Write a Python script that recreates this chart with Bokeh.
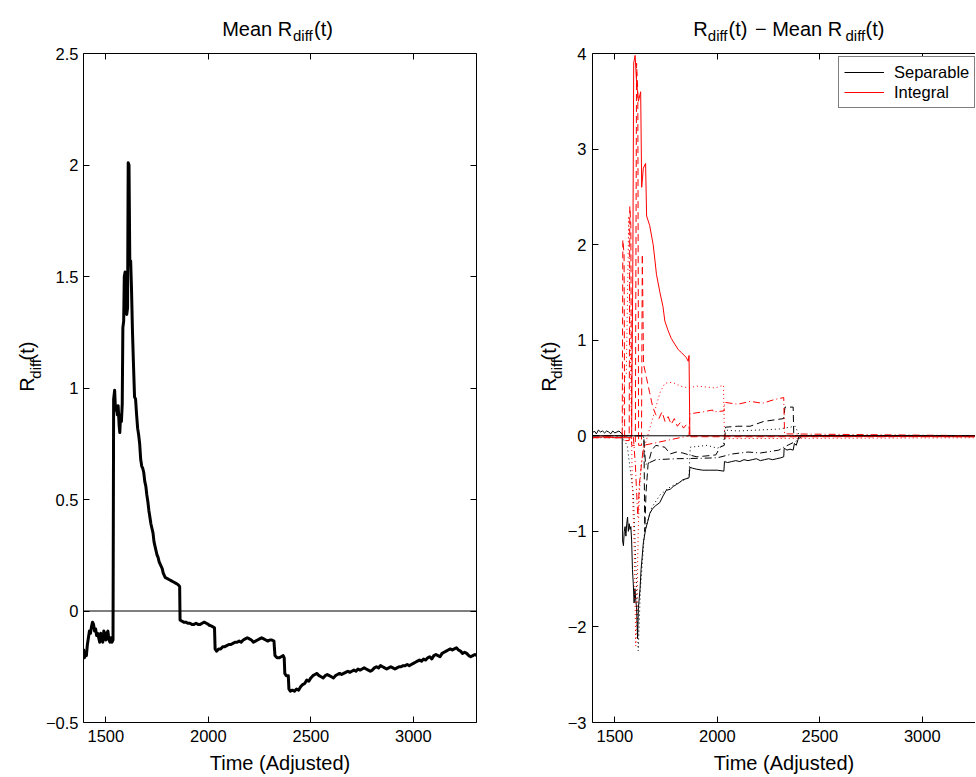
import math
from bokeh.plotting import figure
from bokeh.models import (Range1d, LinearAxis, FixedTicker, Legend, LegendItem, Span)
from bokeh.layouts import row, column
from bokeh.core.properties import value
from bokeh.embed import file_html
from bokeh.resources import INLINE

FONT = "Liberation Sans"

# ---------------- data ----------------
# Left panel: mean R_diff(t)
mean_t = [1391, 1395, 1400, 1405, 1410, 1415, 1420, 1425, 1430, 1435, 1440, 1445, 1450, 1455, 1460, 1465,
          1470, 1475, 1480, 1485, 1490, 1495, 1500, 1505, 1510, 1515, 1520, 1525, 1530, 1535, 1538, 1543,
          1547, 1552, 1556, 1560, 1565, 1568, 1572, 1576, 1580, 1583, 1587, 1590, 1594, 1598, 1602, 1606,
          1609, 1613, 1617, 1621, 1625, 1630, 1635, 1640, 1645, 1650, 1655, 1660, 1665, 1670, 1675, 1680,
          1685, 1690, 1695, 1700, 1705, 1710, 1715, 1720, 1725, 1730, 1735, 1740, 1745, 1750, 1755, 1760,
          1765, 1770, 1775, 1780, 1785, 1790, 1800, 1810, 1820, 1830, 1840, 1850, 1855, 1860, 1862, 1870,
          1880, 1890, 1900, 1910, 1920, 1930, 1940, 1950, 1960, 1970, 1980, 1990, 2000, 2005, 2010, 2020,
          2030, 2033, 2040, 2050, 2060, 2070, 2080, 2090, 2100, 2110, 2120, 2130, 2140, 2150, 2160, 2170,
          2180, 2190, 2200, 2210, 2220, 2230, 2240, 2250, 2260, 2270, 2280, 2290, 2300, 2310, 2320, 2325,
          2335, 2345, 2355, 2365, 2370, 2373, 2380, 2390, 2393, 2400, 2410, 2420, 2430, 2440, 2450, 2460,
          2470, 2480, 2490, 2500, 2510, 2520, 2530, 2540, 2550, 2560, 2570, 2580, 2590, 2600, 2610, 2620,
          2630, 2640, 2650, 2660, 2670, 2680, 2690, 2700, 2710, 2720, 2730, 2740, 2750, 2760, 2770, 2780,
          2790, 2800, 2810, 2820, 2830, 2840, 2850, 2860, 2870, 2880, 2890, 2900, 2910, 2920, 2930, 2940,
          2950, 2960, 2970, 2980, 2990, 3000, 3010, 3020, 3030, 3040, 3050, 3060, 3070, 3080, 3090, 3100,
          3110, 3120, 3130, 3140, 3150, 3160, 3170, 3180, 3190, 3200, 3210, 3220, 3230, 3240, 3250, 3260,
          3270, 3280, 3290, 3300, 3308]
mean_v = [-0.17, -0.21, -0.19, -0.20, -0.15, -0.12, -0.09, -0.10, -0.07, -0.05, -0.06, -0.09, -0.08, -0.11,
          -0.10, -0.12, -0.14, -0.10, -0.13, -0.14, -0.09, -0.10, -0.13, -0.10, -0.09, -0.13, -0.14, -0.12,
          -0.14, -0.13, 0.95, 0.99, 0.90, 0.92, 0.88, 0.92, 0.83, 0.80, 0.88, 0.85, 0.93, 1.27, 1.30, 1.50,
          1.52, 1.40, 1.33, 1.36, 2.01, 2.00, 1.55, 1.57, 1.45, 1.25, 1.10, 0.96, 0.95, 0.88, 0.82, 0.79,
          0.75, 0.68, 0.65, 0.64, 0.62, 0.58, 0.56, 0.52, 0.49, 0.45, 0.42, 0.39, 0.37, 0.35, 0.31, 0.29,
          0.27, 0.25, 0.24, 0.22, 0.21, 0.20, 0.19, 0.17, 0.16, 0.15, 0.145, 0.14, 0.135, 0.13, 0.125, 0.12,
          0.115, 0.11, -0.04, -0.045, -0.05, -0.05, -0.055, -0.055, -0.06, -0.06, -0.055, -0.06, -0.06,
          -0.055, -0.05, -0.055, -0.06, -0.065, -0.065, -0.07, -0.075, -0.17, -0.18, -0.17, -0.17, -0.16,
          -0.16, -0.155, -0.15, -0.15, -0.145, -0.14, -0.14, -0.135, -0.14, -0.13, -0.125, -0.12, -0.125,
          -0.13, -0.14, -0.135, -0.13, -0.125, -0.12, -0.125, -0.13, -0.135, -0.13, -0.13, -0.135, -0.20,
          -0.21, -0.21, -0.205, -0.20, -0.21, -0.28, -0.29, -0.29, -0.35, -0.36, -0.355, -0.36, -0.35,
          -0.355, -0.34, -0.33, -0.325, -0.31, -0.315, -0.30, -0.29, -0.285, -0.28, -0.29, -0.295, -0.30,
          -0.29, -0.285, -0.29, -0.295, -0.30, -0.29, -0.285, -0.28, -0.285, -0.28, -0.275, -0.27, -0.275,
          -0.27, -0.265, -0.27, -0.26, -0.265, -0.26, -0.255, -0.26, -0.265, -0.27, -0.265, -0.255, -0.25,
          -0.255, -0.245, -0.25, -0.255, -0.26, -0.255, -0.25, -0.255, -0.26, -0.255, -0.25, -0.25, -0.245,
          -0.245, -0.24, -0.245, -0.24, -0.235, -0.23, -0.225, -0.22, -0.225, -0.215, -0.22, -0.21, -0.205,
          -0.215, -0.20, -0.195, -0.20, -0.205, -0.19, -0.185, -0.18, -0.175, -0.17, -0.175, -0.17, -0.165,
          -0.175, -0.18, -0.19, -0.185, -0.19, -0.20, -0.205, -0.20, -0.195, -0.20]

# Right panel: R_diff(t) - mean, Separable (black) series
sep_solid_t = [1391, 1400, 1410, 1420, 1430, 1440, 1450, 1460, 1470, 1480, 1490, 1500, 1510, 1520, 1530,
               1536, 1538, 1542, 1546, 1550, 1554, 1558, 1562, 1566, 1570, 1574, 1578, 1582, 1586, 1590,
               1594, 1598, 1602, 1606, 1611, 1615, 1619, 1623, 1628, 1634, 1639, 1650, 1660, 1671, 1685,
               1700, 1719, 1735, 1751, 1770, 1785, 1800, 1815, 1832, 1848, 1862, 1866, 1880, 1900, 1929,
               1960, 2000, 2032, 2035, 2050, 2070, 2090, 2110, 2130, 2150, 2170, 2190, 2210, 2230, 2250,
               2270, 2290, 2310, 2324, 2326, 2340, 2355, 2370, 2376, 2385, 2395, 2405, 2415, 3308]
sep_solid_v = [0.03, 0.05, 0.02, 0.06, 0.04, 0.05, 0.03, 0.05, 0.04, 0.02, 0.05, 0.03, 0.04, 0.05, 0.03,
               0.02, -1.10, -1.15, -1.00, -0.95, -1.05, -0.92, -0.85, -1.00, -0.92, -0.98, -0.95, -1.10,
               -1.40, -1.55, -1.75, -1.60, -1.72, -1.80, -2.12, -1.80, -1.70, -1.60, -1.40, -1.25, -1.12,
               -0.98, -0.90, -0.81, -0.76, -0.73, -0.70, -0.63, -0.57, -0.56, -0.53, -0.51, -0.49, -0.46,
               -0.45, -0.44, -0.33, -0.34, -0.35, -0.36, -0.36, -0.36, -0.37, -0.27, -0.28, -0.27, -0.26,
               -0.27, -0.25, -0.26, -0.25, -0.24, -0.26, -0.25, -0.24, -0.25, -0.24, -0.23, -0.22, -0.13,
               -0.15, -0.14, -0.15, -0.08, -0.10, -0.03, -0.02, 0.0, 0.0]

sep_dash_t = [1391, 1642, 1646, 1652, 1662, 1680, 1700, 1744, 1770, 1800, 1832, 1862, 1900, 1950, 1993,
              2013, 2034, 2040, 2100, 2160, 2226, 2290, 2324, 2330, 2370, 2373, 3308]
sep_dash_v = [0.0, 0.0, -1.0, -0.60, -0.30, -0.15, -0.10, -0.12, -0.19, -0.17, -0.18, -0.20, -0.22, -0.21,
              -0.20, -0.12, -0.10, 0.09, 0.10, 0.10, 0.15, 0.17, 0.18, 0.30, 0.30, 0.0, 0.0]

sep_dot_t = [1391, 1536, 1560, 1590, 1605, 1614, 1625, 1645, 1680, 1720, 1760, 1800, 1850, 1862, 1868,
             1950, 2000, 2030, 2036, 2100, 2200, 2300, 2380, 2400, 3308]
sep_dot_v = [-0.02, -0.02, -0.10, -0.60, -1.50, -2.25, -1.60, -1.00, -0.75, -0.62, -0.55, -0.50, -0.45,
             -0.42, -0.12, -0.10, -0.13, -0.10, 0.06, 0.05, 0.06, 0.07, 0.10, 0.0, 0.0]

sep_dashdot_t = [1391, 1640, 1650, 1700, 1800, 1929, 2000, 2074, 2150, 2210, 2300, 2324, 2390, 2400, 3308]
sep_dashdot_v = [0.0, 0.0, -0.30, -0.25, -0.24, -0.235, -0.23, -0.19, -0.17, -0.18, -0.15, -0.12, -0.05,
                 0.0, 0.0]

# Integral (red) series
int_solid_t = [1391, 1450, 1500, 1550, 1580, 1582, 1588, 1592, 1599, 1606, 1615, 1626, 1631, 1639, 1650,
               1655, 1670, 1687, 1695, 1703, 1720, 1735, 1744, 1760, 1775, 1792, 1810, 1825, 1848, 1858,
               1862, 1866, 3308]
int_solid_v = [-0.02, -0.01, -0.02, -0.02, -0.02, 0.0, 1.9, 3.9, 3.98, 3.70, 3.50, 3.60, 2.60, 2.80, 2.85,
               2.30, 2.20, 2.00, 1.85, 1.69, 1.50, 1.35, 1.20, 1.10, 1.02, 0.96, 0.90, 0.87, 0.82, 0.78,
               0.84, 0.0, -0.01]

int_dash_t = [1391, 1536, 1539, 1545, 1548, 1570, 1573, 1578, 1582, 1600, 1606, 1612, 1616, 1630, 1634,
              1640, 1655, 1670, 1685, 1700, 1715, 1730, 1745, 1760, 1775, 1790, 1805, 1820, 1835, 1850,
              1862, 1866, 3308]
int_dash_v = [-0.02, -0.02, 2.05, 1.90, -0.05, -0.05, 2.40, 2.20, -0.10, -0.10, 3.90, 3.60, -0.10, -0.10,
              1.90, 0.75, 0.60, 0.45, 0.30, 0.22, 0.18, 0.25, 0.15, 0.20, 0.12, 0.18, 0.10, 0.14, 0.08,
              0.12, 0.10, -0.01, -0.01]

int_dot_t = [1391, 1536, 1540, 1548, 1556, 1562, 1568, 1575, 1585, 1595, 1602, 1608, 1614, 1620, 1628,
             1640, 1660, 1687, 1700, 1720, 1744, 1780, 1820, 1860, 1900, 1950, 1990, 2030, 2034, 2040, 3308]
int_dot_v = [0.0, 0.0, 0.30, 0.60, 0.65, 1.50, 2.30, 1.00, -0.50, -1.20, -2.20, -1.80, -1.00, -0.60,
             -0.30, -0.15, 0.0, 0.20, 0.30, 0.45, 0.55, 0.56, 0.52, 0.50, 0.52, 0.51, 0.50, 0.53, 0.08,
             -0.03, -0.02]

int_dashdot_t = [1391, 1590, 1600, 1612, 1620, 1640, 1862, 1866, 1930, 1977, 1980, 2033, 2036, 2100, 2160,
                 2220, 2280, 2324, 2328, 3308]
int_dashdot_v = [0.0, 0.0, -0.30, -0.85, -0.50, -0.10, 0.0, 0.23, 0.25, 0.27, 0.25, 0.26, 0.35, 0.33,
                 0.36, 0.34, 0.38, 0.40, 0.02, 0.0]

x_ticks = [1500, 2000, 2500, 3000]
x_labels = ["1500", "2000", "2500", "3000"]
left_y_ticks = [-0.5, 0, 0.5, 1, 1.5, 2, 2.5]
left_y_labels = ["\u22120.5", "0", "0.5", "1", "1.5", "2", "2.5"]
right_y_ticks = [-3, -2, -1, 0, 1, 2, 3, 4]
right_y_labels = ["\u22123", "\u22122", "\u22121", "0", "1", "2", "3", "4"]
legend_labels = ["Separable", "Integral"]
x_title = "Time (Adjusted)"
left_title_parts = ["Mean R", "diff", "(t)"]
right_title_parts = ["R", "diff", "(t)", "\u2212", "Mean R", "diff", "(t)"]
ylabel_parts = ["R", "diff", "(t)"]

# ---------------- layout (page pixels; page margin is 0) ----------------
TH = 43            # title strip height
PH = 734           # plot row height
FRAME_TOP = 53
FRAME_H = 669
FRAME_BOTTOM = FRAME_TOP + FRAME_H
YW1, W1, YW2 = 42, 484, 38
X_P1 = YW1
X_Y2 = YW1 + W1
X_P2 = X_Y2 + YW2
TOTAL_W = 975
W2 = TOTAL_W - X_P2
FL1 = 80
FL2 = 589


def style_axis(ax, ticks, labels, show=True, standoff=8):
    ax.ticker = FixedTicker(ticks=ticks)
    if show:
        ax.major_label_overrides = {t: l for t, l in zip(ticks, labels)}
        ax.major_label_text_font_size = "16.5px"
        ax.major_label_standoff = standoff
    else:
        ax.major_label_overrides = {t: "" for t in ticks}
        ax.major_label_text_font_size = "1px"
        ax.major_label_standoff = 0
    ax.major_label_text_font = FONT
    ax.major_label_text_color = "black"
    ax.major_tick_in = 6
    ax.major_tick_out = 0
    ax.minor_tick_in = 0
    ax.minor_tick_out = 0
    ax.minor_tick_line_color = None
    ax.axis_line_color = "black"
    ax.axis_line_width = 1
    ax.major_tick_line_color = "black"
    ax.major_tick_line_width = 1


def make_fig(width, xr, yr, border_left, border_right):
    p = figure(width=width, height=PH, x_range=Range1d(*xr), y_range=Range1d(*yr),
               output_backend="svg", toolbar_location=None,
               min_border_left=border_left, min_border_right=border_right,
               min_border_top=FRAME_TOP - TH, min_border_bottom=PH - (FRAME_TOP - TH) - FRAME_H)
    p.grid.visible = False
    p.outline_line_color = None
    p.background_fill_color = "white"
    p.border_fill_color = "white"
    return p


def text_fig(x0, x1, y0, y1):
    # a blank figure whose data coordinates are page pixels (y downwards)
    f = figure(width=x1 - x0, height=y1 - y0, x_range=Range1d(x0, x1), y_range=Range1d(y1, y0),
               output_backend="svg", toolbar_location=None, x_axis_location=None, y_axis_location=None,
               min_border_left=0, min_border_right=0, min_border_top=0, min_border_bottom=0)
    f.outline_line_color = None
    f.background_fill_color = "white"
    f.border_fill_color = "white"
    f.grid.visible = False
    return f


def put_text(f, parts, xs, ys, sizes, angle=0.0):
    for t, x, y, s in zip(parts, xs, ys, sizes):
        f.text(x=[x], y=[y], text=[t], text_font=value(FONT), text_font_size=value(s),
               text_color="black", text_align="left", text_baseline="alphabetic", angle=angle)


def bottom_axis(ax):
    ax.axis_label = x_title
    ax.axis_label_text_font = FONT
    ax.axis_label_text_font_size = "20px"
    ax.axis_label_text_font_style = "normal"
    ax.axis_label_text_color = "black"
    ax.axis_label_standoff = 7


# ---------------- left figure ----------------
p1 = make_fig(W1, (1391, 3308), (-0.5, 2.5), FL1 - X_P1, W1 - (FL1 - X_P1) - 396)
style_axis(p1.xaxis[0], x_ticks, x_labels, standoff=7)
style_axis(p1.yaxis[0], left_y_ticks, left_y_labels, standoff=5)
bottom_axis(p1.xaxis[0])
top1 = LinearAxis()
style_axis(top1, x_ticks, x_labels, show=False)
p1.add_layout(top1, "above")
right1 = LinearAxis()
style_axis(right1, left_y_ticks, left_y_labels, show=False)
p1.add_layout(right1, "right")
p1.add_layout(Span(location=0, dimension="width", line_color="black", line_width=1))
p1.line(mean_t, mean_v, line_color="black", line_width=3, line_join="round")

# ---------------- right figure ----------------
frame_w2 = TOTAL_W - FL2
x_end2 = 1391 + frame_w2 * (3308 - 1391) / 396.0
p2 = make_fig(W2, (1391, x_end2), (-3, 4), FL2 - X_P2, 0)
style_axis(p2.xaxis[0], x_ticks, x_labels, standoff=7)
style_axis(p2.yaxis[0], right_y_ticks, right_y_labels, standoff=6)
bottom_axis(p2.xaxis[0])
top2 = LinearAxis()
style_axis(top2, x_ticks, x_labels, show=False)
p2.add_layout(top2, "above")

BLACK = "#000000"
RED = "#ff0000"
p2.line(sep_dashdot_t, sep_dashdot_v, line_color=BLACK, line_width=1, line_dash="7 3 1 3")
p2.line(sep_dot_t, sep_dot_v, line_color=BLACK, line_width=1, line_dash="1 3")
p2.line(sep_dash_t, sep_dash_v, line_color=BLACK, line_width=1, line_dash="7 4")
r_sep = p2.line(sep_solid_t, sep_solid_v, line_color=BLACK, line_width=1)
p2.line(int_dashdot_t, int_dashdot_v, line_color=RED, line_width=1, line_dash="7 3 1 3")
p2.line(int_dot_t, int_dot_v, line_color=RED, line_width=1, line_dash="1 3")
p2.line(int_dash_t, int_dash_v, line_color=RED, line_width=1, line_dash="7 4")
r_int = p2.line(int_solid_t, int_solid_v, line_color=RED, line_width=1)
p2.add_layout(Span(location=0, dimension="width", line_color="black", line_width=1))

legend = Legend(items=[LegendItem(label=legend_labels[0], renderers=[r_sep]),
                       LegendItem(label=legend_labels[1], renderers=[r_int])],
                location=(835 - FL2, FRAME_BOTTOM - 108),
                label_text_font=FONT, label_text_font_size="16.5px", label_text_color="black",
                glyph_width=40, glyph_height=20, label_height=20, label_standoff=10,
                padding=5, spacing=0, margin=0, border_line_color="black", border_line_width=1,
                background_fill_color="white", background_fill_alpha=1.0)
p2.add_layout(legend)

# ---------------- titles and y labels (text strips) ----------------
t1 = text_fig(0, X_Y2, 0, TH)
put_text(t1, left_title_parts, [221.7, 292.5, 313.5], [28.5, 35.3, 28.5], ["20px", "15px", "20px"])
t2 = text_fig(X_Y2, TOTAL_W, 0, TH)
put_text(t2, right_title_parts, [692.7, 707.3, 728.0, 754.5, 771.7, 845.0, 865.0],
         [28.5, 35.3, 28.5, 28.5, 28.5, 35.3, 28.5],
         ["20px", "15px", "20px", "20px", "20px", "15px", "20px"])

y1 = text_fig(0, YW1, TH, TH + PH)
put_text(y1, ylabel_parts, [26.5, 34.5, 26.5], [414.2, 399.8, 379.8], ["20px", "15px", "20px"],
         angle=math.pi / 2)
y2 = text_fig(X_Y2, X_P2, TH, TH + PH)
put_text(y2, ylabel_parts, [548.0, 556.0, 548.0], [414.2, 399.8, 379.8], ["20px", "15px", "20px"],
         angle=math.pi / 2)

layout = column(row(t1, t2, spacing=0), row(y1, p1, y2, p2, spacing=0), spacing=0)
open("out.html", "w").write(file_html(layout, INLINE))
